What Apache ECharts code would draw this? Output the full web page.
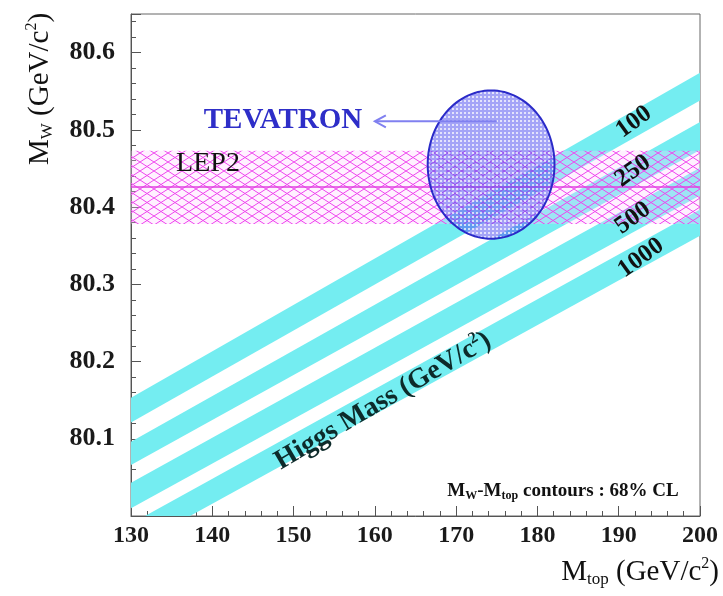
<!DOCTYPE html>
<html><head><meta charset="utf-8">
<script src="https://cdn.jsdelivr.net/npm/echarts@6/dist/echarts.min.js"></script>
<style>html,body{margin:0;padding:0;background:#fff}#c{width:723px;height:596px}</style>
</head><body><div id="c"></div>
<script>
// ---- data ----
const xRange = [130, 200];
const yRange = [80.0, 80.65];
const xTickLabels = ['130','140','150','160','170','180','190','200'];
const yTickLabels = ['80.1','80.2','80.3','80.4','80.5','80.6'];
const higgsMasses = ['100','250','500','1000'];
const bandMtop = [130, 200];               // M_top at the two ends of each band
const band100Lo  = [80.121, 80.538], band100Hi  = [80.153, 80.574];
const band250Lo  = [80.066, 80.474], band250Hi  = [80.096, 80.510];
const band500Lo  = [80.010, 80.415], band500Hi  = [80.043, 80.451];
const band1000Lo = [79.958, 80.363], band1000Hi = [79.990, 80.397];
const lep2MW = [80.378, 80.473, 80.426];   // low, high, central
const tevatron = [174.3, 80.455, 7.8, 0.096]; // Mtop, MW, half-width Mtop, half-width MW
const tevArrow = [175.0, 80.511, 160.0, 80.511];

const FONT = '"Liberation Serif","DejaVu Serif",serif';
const bandLo = [band100Lo, band250Lo, band500Lo, band1000Lo];
const bandHi = [band100Hi, band250Hi, band500Hi, band1000Hi];

function hatchPattern() {
  const c = document.createElement('canvas'); c.width = 14; c.height = 9;
  const g = c.getContext('2d');
  g.fillStyle = 'rgba(255,210,255,0.3)'; g.fillRect(0,0,14,9);
  g.strokeStyle = 'rgba(238,70,238,1)'; g.lineWidth = 1;
  g.beginPath(); g.moveTo(0,0); g.lineTo(14,9); g.moveTo(0,9); g.lineTo(14,0); g.stroke();
  return c;
}
function dotPattern() {
  const c = document.createElement('canvas'); c.width = 4; c.height = 4;
  const g = c.getContext('2d');
  g.fillStyle = 'rgba(80,80,240,0.52)'; g.fillRect(0,0,4,4);
  g.fillStyle = 'rgba(255,255,255,0.7)'; g.fillRect(0,0,2,2);
  return c;
}
function clipOf(params) {
  const cs = params.coordSys;
  return {type:'rect', shape:{x:cs.x, y:cs.y, width:cs.width, height:cs.height}};
}

const chart = echarts.init(document.getElementById('c'));
const sub = {fontSize:17, fontFamily:FONT, verticalAlign:'bottom', lineHeight:17, padding:[11,0,0,0], fill:'#111'};
const sup = {fontSize:16, fontFamily:FONT, verticalAlign:'top', lineHeight:16, fill:'#111'};
const main = {fontSize:29, fontFamily:FONT, lineHeight:33, fill:'#111'};
const T = (x, y, rot, style) => ({type:'text', x, y, rotation:rot*Math.PI/180, z:100, style});

chart.setOption({
  animation:false,
  backgroundColor:'#fff',
  grid:{left:131, right:23, top:14, bottom:80, show:true, borderColor:'#666', borderWidth:1, outerBoundsMode:'none'},
  xAxis:[{
    type:'value', min:xRange[0], max:xRange[1], interval:10,
    axisLine:{show:true, onZero:false, lineStyle:{color:'#555'}},
    axisTick:{show:true, inside:true, length:10, lineStyle:{color:'#555'}},
    minorTick:{show:true, splitNumber:5, length:5, lineStyle:{color:'#555'}},
    splitLine:{show:false},
    axisLabel:{margin:8, fontFamily:FONT, fontSize:24, fontWeight:'bold', color:'#1a1a1a',
      formatter:v => xTickLabels.find(t => Number(t) === Math.round(v)) || ''}
  }],
  yAxis:[{
    type:'value', min:yRange[0], max:yRange[1], interval:0.1,
    axisLine:{show:true, onZero:false, lineStyle:{color:'#555'}},
    axisTick:{show:true, inside:true, length:10, lineStyle:{color:'#555'}},
    splitLine:{show:false}, showMaxLabel:false,
    axisLabel:{margin:16, fontFamily:FONT, fontSize:26, fontWeight:'bold', color:'#1a1a1a',
      formatter:v => yTickLabels.find(t => Math.abs(Number(t) - v) < 1e-6) || ''}
  },{
    type:'value', min:yRange[0], max:yRange[1], interval:0.02, position:'left', offset:0,
    axisLine:{show:false}, axisLabel:{show:false}, splitLine:{show:false},
    axisTick:{show:true, inside:true, length:5, lineStyle:{color:'#555'}}
  }],
  series:[
    { // Higgs-mass bands
      type:'custom', coordinateSystem:'cartesian2d', silent:true,
      encode:{x:[0,3], y:[1,2,4,5]},
      data: higgsMasses.map((m,i) => [bandMtop[0], bandLo[i][0], bandHi[i][0], bandMtop[1], bandLo[i][1], bandHi[i][1]]),
      renderItem(params, api) {
        const pts = [
          api.coord([api.value(0), api.value(1)]), api.coord([api.value(3), api.value(4)]),
          api.coord([api.value(3), api.value(5)]), api.coord([api.value(0), api.value(2)])];
        return {type:'group', clipPath:clipOf(params),
          children:[{type:'polygon', shape:{points:pts}, style:{fill:'#74edf1'}}]};
      }
    },
    { // LEP2 band
      type:'custom', coordinateSystem:'cartesian2d', silent:true,
      encode:{y:[0,1,2]},
      data:[lep2MW],
      renderItem(params, api) {
        const a = api.coord([xRange[0], api.value(1)]);
        const b = api.coord([xRange[1], api.value(0)]);
        const c1 = api.coord([xRange[0], api.value(2)]);
        const c2 = api.coord([xRange[1], api.value(2)]);
        return {type:'group', clipPath:clipOf(params), children:[
          {type:'rect', shape:{x:a[0], y:a[1], width:b[0]-a[0], height:b[1]-a[1]},
           style:{fill:{image:hatchPattern(), repeat:'repeat'}}},
          {type:'line', shape:{x1:c1[0], y1:c1[1], x2:c2[0], y2:c2[1]},
           style:{stroke:'#e040e0', lineWidth:1.5}}
        ]};
      }
    },
    { // TEVATRON ellipse
      type:'custom', coordinateSystem:'cartesian2d', silent:true,
      encode:{x:0, y:1},
      data:[tevatron],
      renderItem(params, api) {
        const pts = [];
        for (let k = 0; k < 120; k++) {
          const t = 2*Math.PI*k/120;
          pts.push(api.coord([api.value(0) + api.value(2)*Math.cos(t), api.value(1) + api.value(3)*Math.sin(t)]));
        }
        return {type:'polygon', shape:{points:pts},
          style:{fill:{image:dotPattern(), repeat:'repeat'}, stroke:'#2a2ac8', lineWidth:2}};
      }
    },
    { // arrow pointing to TEVATRON label
      type:'custom', coordinateSystem:'cartesian2d', silent:true,
      encode:{x:[0,2], y:[1,3]},
      data:[tevArrow],
      renderItem(params, api) {
        const s = api.coord([api.value(0), api.value(1)]);
        const e = api.coord([api.value(2), api.value(3)]);
        const st = {stroke:'#8080f0', lineWidth:2, fill:null};
        return {type:'group', children:[
          {type:'line', shape:{x1:s[0], y1:s[1], x2:e[0], y2:e[1]}, style:st},
          {type:'polyline', shape:{points:[[e[0]+11, e[1]-6], e, [e[0]+11, e[1]+6]]}, style:st}
        ]};
      }
    }
  ],
  graphic:[
    T(283, 121, 0, {text:'TEVATRON', font:'bold 29px '+FONT, fill:'#2e2ec8', align:'center', verticalAlign:'middle'}),
    T(208, 164, 0, {text:'LEP2', font:'28px '+FONT, fill:'#111', align:'center', verticalAlign:'middle'}),
    T(634, 122, 36, {text:higgsMasses[0], font:'bold 25px '+FONT, fill:'#111', align:'center', verticalAlign:'middle'}),
    T(633, 171, 36, {text:higgsMasses[1], font:'bold 25px '+FONT, fill:'#111', align:'center', verticalAlign:'middle'}),
    T(633, 218, 36, {text:higgsMasses[2], font:'bold 25px '+FONT, fill:'#111', align:'center', verticalAlign:'middle'}),
    T(641, 258, 36, {text:higgsMasses[3], font:'bold 25px '+FONT, fill:'#111', align:'center', verticalAlign:'middle'}),
    T(383, 401, 30.5, {text:'{m|Higgs Mass (GeV/c}{p|2}{m|)}', align:'center', verticalAlign:'middle',
       rich:{m:{fontSize:28, fontWeight:'bold', fontFamily:FONT, fill:'#0d2a2a', lineHeight:32},
             p:{fontSize:16, fontWeight:'bold', fontFamily:FONT, fill:'#0d2a2a', verticalAlign:'top', lineHeight:16}}}),
    T(563, 491, 0, {text:'{m|M}{s|W}{m|-M}{s|top}{m| contours : 68% CL}', align:'center', verticalAlign:'middle',
       rich:{m:{fontSize:19, fontWeight:'bold', fontFamily:FONT, fill:'#111', lineHeight:21},
             s:{fontSize:12, fontWeight:'bold', fontFamily:FONT, fill:'#111', verticalAlign:'bottom', lineHeight:12, padding:[7,0,0,0]}}}),
    T(40, 89, 90, {text:'{m|M}{s|W}{m| (GeV/c}{p|2}{m|)}', align:'center', verticalAlign:'middle', rich:{m:main, s:sub, p:sup}}),
    T(719, 572, 0, {text:'{m|M}{s|top}{m| (GeV/c}{p|2}{m|)}', align:'right', verticalAlign:'middle', rich:{m:main, s:sub, p:sup}})
  ]
});
</script></body></html>
